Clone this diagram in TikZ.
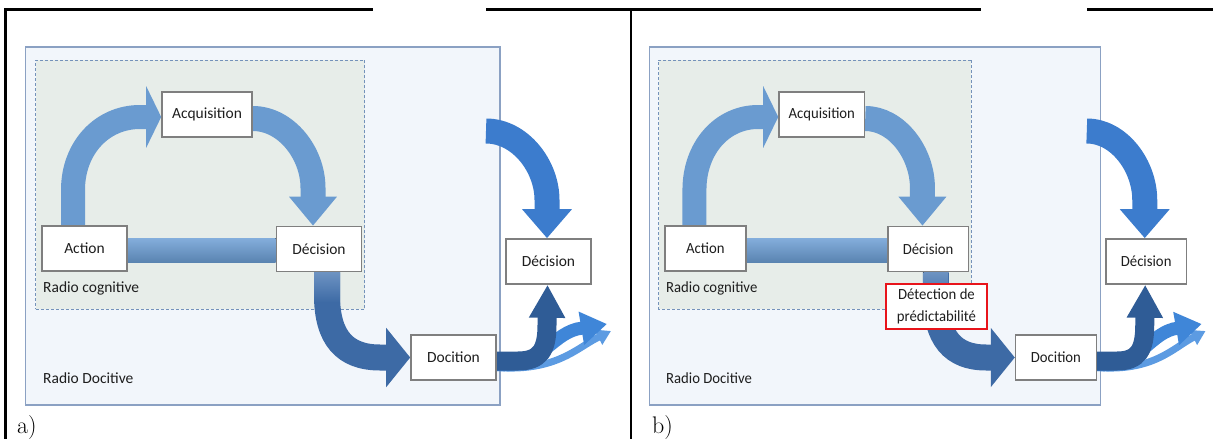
\documentclass[tikz,border=0pt]{standalone}
\usepackage{fontspec}
\newfontfamily\calfont{Carlito}
\usetikzlibrary{arrows.meta,calc}
\pgfdeclarelayer{bgl}
\pgfdeclarelayer{arrl}
\pgfsetlayers{bgl,arrl,main}
\definecolor{outerfill}{HTML}{F2F6FB}
\definecolor{outerdraw}{HTML}{8BA1C3}
\definecolor{innerfill}{HTML}{E7EDE9}
\definecolor{innerdraw}{HTML}{7492BA}
\definecolor{arrlight}{HTML}{6A9BD0}
\definecolor{arrlighttop}{HTML}{84AEDC}
\definecolor{arrtopfade}{HTML}{6D93C2}
\definecolor{arrmid}{HTML}{3D6AA5}
\definecolor{arrdark}{HTML}{2F5C96}
\definecolor{arrbright}{HTML}{3C7CCD}
\definecolor{arrfan}{HTML}{3F86D8}
\definecolor{arrfanlight}{HTML}{5C9BE2}
\definecolor{boxdraw}{HTML}{7F7F7F}
\definecolor{boxtext}{HTML}{1E1E1E}
\definecolor{redline}{HTML}{E8141B}
\newcommand\boxfont{\calfont\fontsize{15.5}{19}\selectfont}
\newcommand\redfont{\calfont\fontsize{15.5}{22}\selectfont}
\tikzset{
  dbox/.style={draw=boxdraw, line width=1.6pt, fill=white, minimum width=85pt,
    minimum height=45pt, inner sep=0pt, font=\boxfont, text=boxtext},
  lbl/.style={anchor=west, inner sep=0pt, font=\boxfont, text=boxtext},
  outerbox/.style={draw=outerdraw, fill=outerfill, line width=1.2pt, inner sep=0pt},
  innerbox/.style={draw=innerdraw, fill=innerfill, line width=0.8pt, inner sep=0pt,
    dash pattern=on 3pt off 2pt},
  redbox/.style={draw=redline, line width=1.6pt, fill=white, minimum width=106pt,
    minimum height=45pt, inner sep=0pt, align=center, font=\redfont, text=boxtext},
  rulel/.style={line width=2.4pt, black},
  barrow/.style={line width=#1}
}
\newcommand\drawpanel[1]{%
  \node[dbox] (#1action) at (84.5,248.5) {Action};
  \node[dbox, minimum width=90pt] (#1acq) at (207,114.5) {Acquisition};
  \node[dbox] (#1dec) at (319,249) {Décision};
  \node[dbox] (#1doc) at (453.5,357.5) {Docition};
  \node[dbox] (#1dectwo) at (548.5,261.5) {Décision};
  \node[lbl] (#1rc) at (43,288) {Radio cognitive};
  \node[lbl] (#1rd) at (43,378) {Radio Docitive};
  \coordinate (#1rs) at (486,131);
  \coordinate (#1fb) at (607,324);
  \coordinate (#1fc) at (611,331);
  \begin{pgfonlayer}{bgl}
    \node[outerbox, minimum width=474.3pt, minimum height=358pt] (#1outer) at (262.85,226) {};
    \node[innerbox, minimum width=329pt, minimum height=249pt] (#1inner) at (200,184.5) {};
  \end{pgfonlayer}
  \begin{pgfonlayer}{arrl}
    \fill[top color=arrlighttop, bottom color=arrlight!85!black]
      ($(#1action.east)+(0,-10.5)$) rectangle ($(#1dec.west)+(0,13)$);
    \draw[barrow=24pt, arrlight, -{Triangle[width=61pt,length=15pt]}]
      ($(#1action.north)+(-11.5,0)$) -- (73,190) .. controls (73,148) and (102,117) .. (140,117)
      -- ($(#1acq.west)+(0,2.5)$);
    \draw[barrow=25pt, arrlight, -{Triangle[width=46pt,length=29pt]}]
      ($(#1acq.east)+(0,4)$) .. controls (286,118.5) and (313,153) .. (313,188)
      -- ($(#1dec.north)+(-6,0)$);
    \draw[barrow=26pt, arrmid, -{Triangle[width=58pt,length=24pt]}]
      ($(#1dec.south)+(8,0)$) -- (327,295) .. controls (327,338) and (345,357.5) .. (380,357.5)
      -- (#1doc.west);
    \fill[top color=arrtopfade, bottom color=arrmid]
      ($(#1dec.south)+(-5,0)$) rectangle ($(#1dec.south)+(21,30)$);
    \draw[barrow=25pt, arrbright, -{Triangle[width=48pt,length=29pt]}]
      (#1rs) .. controls (520,131) and (547,166) .. (547,200)
      -- ($(#1dectwo.north)+(-1.5,0)$);
    \draw[barrow=7pt, arrfanlight, -{Triangle[width=16pt,length=14pt]}]
      ($(#1doc.east)+(0,10)$) .. controls (555,372) and (577,348) .. (597,338) -- (#1fc);
    \draw[barrow=13pt, arrfan, -{Triangle[width=32pt,length=26pt]}]
      ($(#1doc.east)+(0,7)$) .. controls (540,368) and (550,336) .. (577,329) -- (#1fb);
    \draw[barrow=19pt, arrdark, -{Triangle[width=34pt,length=33pt]}]
      ($(#1doc.east)+(0,3.5)$) -- (518,361) .. controls (540,361) and (547,350) .. (547,325)
      -- ($(#1dectwo.south)+(-1,0)$);
  \end{pgfonlayer}
}
\begin{document}
\begin{tikzpicture}[x=1pt,y=-1pt]
\useasboundingbox (0,0) rectangle (1213,439);
\draw[rulel] (4,9.5) -- (373,9.5);
\draw[rulel] (486,9.5) -- (981,9.5);
\draw[rulel] (1087,9.5) -- (1213,9.5);
\draw[rulel] (5.5,8.3) -- (5.5,439);
\draw[rulel] (631,8.3) -- (631,439);
\begin{scope}
  \drawpanel{a}
\end{scope}
\begin{scope}[xshift=625.1pt, xscale=0.95, transform shape]
  \drawpanel{b}
  \node[redbox] (bdet) at (327.75,306.5) {Détection de\\prédictabilité};
\end{scope}
\node[anchor=base west, inner sep=0pt, font=\fontsize{24}{28}\selectfont] (la) at (17,433) {a)};
\node[anchor=base west, inner sep=0pt, font=\fontsize{24}{28}\selectfont] (lb) at (652,433) {b)};
\end{tikzpicture}
\end{document}
